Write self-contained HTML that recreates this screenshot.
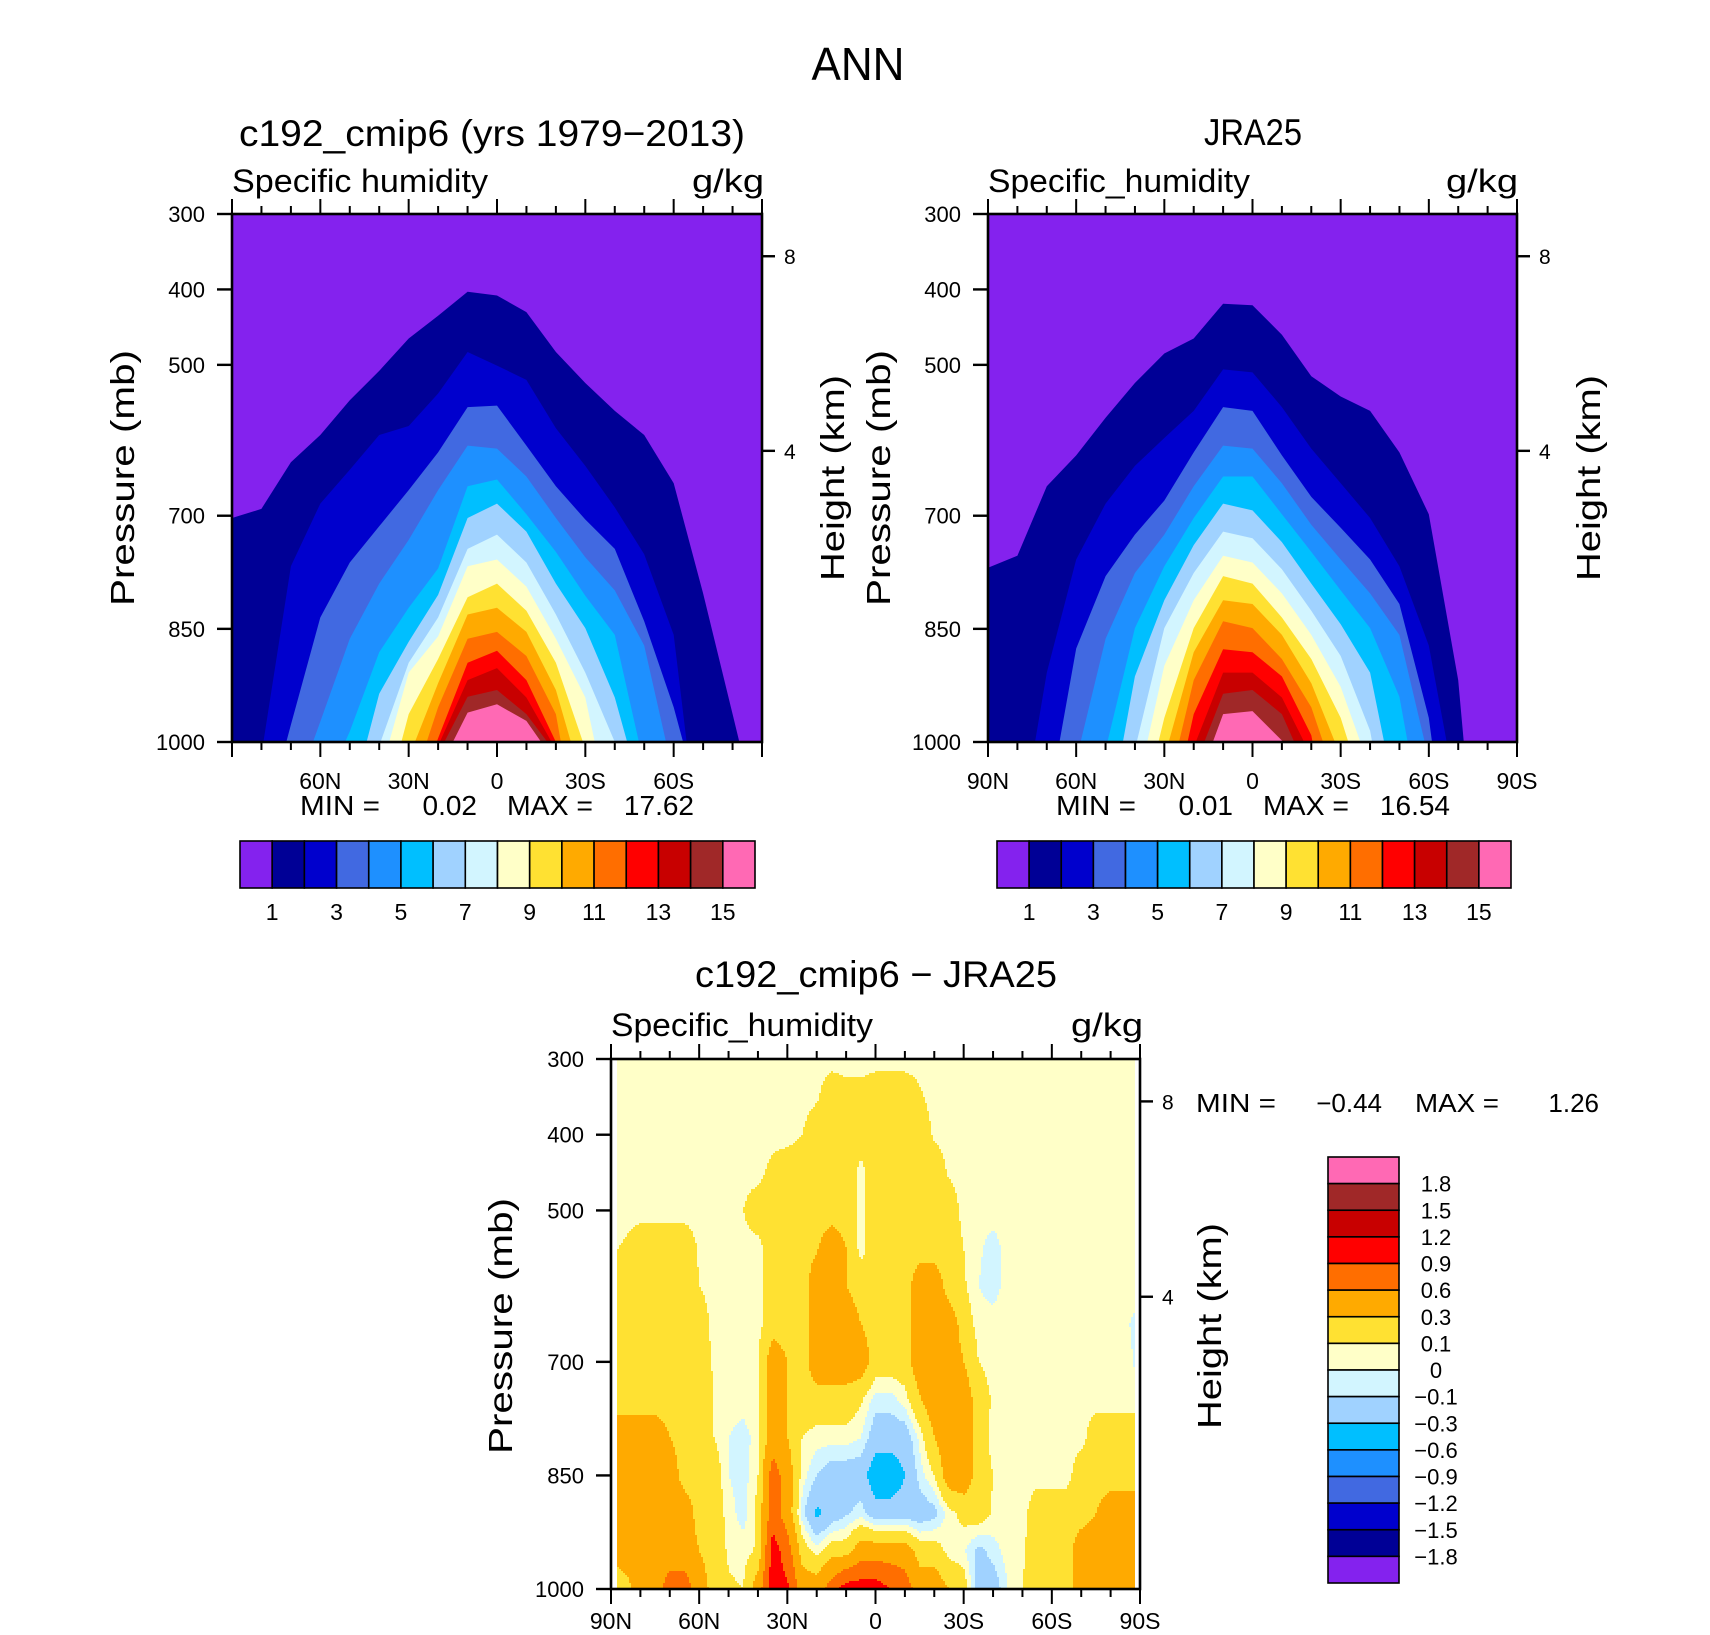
<!DOCTYPE html>
<html><head><meta charset="utf-8"><title>ANN Specific humidity</title>
<style>
html,body{margin:0;padding:0;background:#fff;}
svg{display:block;font-family:"Liberation Sans",sans-serif;}
text{fill:#000;}
</style></head>
<body>
<svg id="fig" xmlns="http://www.w3.org/2000/svg" width="1710" height="1635" viewBox="0 0 1710 1635">
<rect x="0" y="0" width="1710" height="1635" fill="#fff"/>
<text x="858" y="80" font-size="46" text-anchor="middle" textLength="93" lengthAdjust="spacingAndGlyphs">ANN</text>

<!-- panel 1 texts -->
<text x="492" y="146" font-size="37" text-anchor="middle" textLength="506" lengthAdjust="spacingAndGlyphs">c192_cmip6 (yrs 1979−2013)</text>
<text x="232" y="192" font-size="32" textLength="256" lengthAdjust="spacingAndGlyphs">Specific humidity</text>
<text x="764" y="192" font-size="32" text-anchor="end" textLength="72" lengthAdjust="spacingAndGlyphs">g/kg</text>
<text transform="translate(134,478) rotate(-90)" font-size="33" text-anchor="middle" textLength="256" lengthAdjust="spacingAndGlyphs">Pressure  (mb)</text>
<text transform="translate(844,478) rotate(-90)" font-size="33" text-anchor="middle" textLength="206" lengthAdjust="spacingAndGlyphs">Height  (km)</text>
<g font-size="28">
<text x="300" y="815" textLength="80" lengthAdjust="spacingAndGlyphs">MIN =</text>
<text x="477" y="815" text-anchor="end">0.02</text>
<text x="507" y="815" textLength="86" lengthAdjust="spacingAndGlyphs">MAX =</text>
<text x="694" y="815" text-anchor="end">17.62</text>
</g>

<!-- panel 2 texts -->
<text x="1253" y="145" font-size="37" text-anchor="middle" textLength="98" lengthAdjust="spacingAndGlyphs">JRA25</text>
<text x="988" y="192" font-size="32" textLength="262" lengthAdjust="spacingAndGlyphs">Specific_humidity</text>
<text x="1518" y="192" font-size="32" text-anchor="end" textLength="72" lengthAdjust="spacingAndGlyphs">g/kg</text>
<text transform="translate(890,478) rotate(-90)" font-size="33" text-anchor="middle" textLength="256" lengthAdjust="spacingAndGlyphs">Pressure  (mb)</text>
<text transform="translate(1600,478) rotate(-90)" font-size="33" text-anchor="middle" textLength="206" lengthAdjust="spacingAndGlyphs">Height  (km)</text>
<g font-size="28">
<text x="1056" y="815" textLength="80" lengthAdjust="spacingAndGlyphs">MIN =</text>
<text x="1233" y="815" text-anchor="end">0.01</text>
<text x="1263" y="815" textLength="86" lengthAdjust="spacingAndGlyphs">MAX =</text>
<text x="1450" y="815" text-anchor="end">16.54</text>
</g>

<!-- bottom panel texts -->
<text x="876" y="987" font-size="37" text-anchor="middle" textLength="362" lengthAdjust="spacingAndGlyphs">c192_cmip6 − JRA25</text>
<text x="611" y="1036" font-size="32" textLength="262" lengthAdjust="spacingAndGlyphs">Specific_humidity</text>
<text x="1143" y="1036" font-size="32" text-anchor="end" textLength="72" lengthAdjust="spacingAndGlyphs">g/kg</text>
<text transform="translate(512,1326) rotate(-90)" font-size="33" text-anchor="middle" textLength="256" lengthAdjust="spacingAndGlyphs">Pressure  (mb)</text>
<text transform="translate(1221,1326) rotate(-90)" font-size="33" text-anchor="middle" textLength="206" lengthAdjust="spacingAndGlyphs">Height  (km)</text>
<g font-size="26">
<text x="1196" y="1112" textLength="80" lengthAdjust="spacingAndGlyphs">MIN =</text>
<text x="1382" y="1112" text-anchor="end">−0.44</text>
<text x="1415" y="1112" textLength="84" lengthAdjust="spacingAndGlyphs">MAX =</text>
<text x="1599" y="1112" text-anchor="end">1.26</text>
</g>
</svg>

<script>
// ---------- data ----------
const lats = [90,80,70,60,50,40,30,20,10,0,-10,-20,-30,-40,-50,-60,-70,-80,-90];
const fillColors = ["#8422EE","#000096","#0000CD","#4169E1","#1E90FF","#00BFFF","#A0D2FF","#D2F5FF","#FFFFC8","#FFE132","#FFAA00","#FF6E00","#FF0000","#C80000","#A02828","#FF69B4"];
const qLevelLabels = ["1","3","5","7","9","11","13","15"];
const qLevelLabelIndex = [1,3,5,7,9,11,13,15];
const pressureTicks = [300,400,500,700,850,1000];
const heightTicksKm = [8,4];
const heightTickPressure = [356,614];
const latTicks = [90,60,30,0,-30,-60,-90];
const latTickLabels = ["90N","60N","30N","0","30S","60S","90S"];

// top-of-contour pressure (mb) per contour level 1..15, at lats 90N..90S (model)
const modelLevel1  = [703,691,629,593,547,508,465,435,403,408,430,483,524,561,593,657,803,963,1124];
const modelLevel2  = [1300,1017,767,684,639,593,581,538,483,501,520,584,634,689,751,858,1181,1400,1400];
const modelLevel3  = [1300,1124,977,835,762,714,666,616,556,554,607,661,705,744,840,954,1098,1400,1400];
const modelLevel4  = [1400,1300,1081,973,863,790,732,666,607,611,648,703,755,799,872,1045,1400,1400,1400];
const modelLevel5  = [1400,1400,1400,1074,986,881,822,770,661,652,698,748,806,858,1031,1400,1400,1400,1400];
const modelLevel6  = [1400,1400,1400,1400,1085,936,867,805,703,684,721,790,849,941,1081,1400,1400,1400,1400];
const modelLevel7  = [1400,1400,1400,1400,1200,1005,895,835,744,725,762,831,908,1000,1200,1400,1400,1400,1400];
const modelLevel8  = [1400,1400,1400,1400,1400,1047,908,860,767,758,794,863,941,1125,1400,1400,1400,1400,1400];
const modelLevel9  = [1400,1400,1400,1400,1400,1111,963,890,808,790,826,895,1009,1400,1400,1400,1400,1400,1400];
const modelLevel10 = [1400,1400,1400,1400,1400,1400,1021,922,831,822,854,931,1066,1400,1400,1400,1400,1400,1400];
const modelLevel11 = [1400,1400,1400,1400,1400,1400,1072,954,863,854,886,963,1181,1400,1400,1400,1400,1400,1400];
const modelLevel12 = [1400,1400,1400,1400,1400,1400,1100,995,895,879,918,1000,1400,1400,1400,1400,1400,1400,1400];
const modelLevel13 = [1400,1400,1400,1400,1400,1400,1400,1005,918,902,941,1010,1400,1400,1400,1400,1400,1400,1400];
const modelLevel14 = [1400,1400,1400,1400,1400,1400,1400,1016,940,931,963,1015,1400,1400,1400,1400,1400,1400,1400];
const modelLevel15 = [1400,1400,1400,1400,1400,1400,1400,1039,961,950,972,1028,1400,1400,1400,1400,1400,1400,1400];

// observations (JRA25)
const obsLevel1  = [769,753,661,620,570,524,485,465,419,421,460,515,542,561,616,698,918,1350,1700];
const obsLevel2  = [1400,1138,908,758,684,634,597,561,506,510,556,611,657,703,767,872,1082,1400,1400];
const obsLevel3  = [1400,1300,1094,876,780,725,680,616,556,561,620,675,716,758,817,968,1259,1400,1400];
const obsLevel4  = [1400,1400,1300,1024,863,776,725,661,607,611,657,712,758,803,858,1023,1400,1400,1400];
const obsLevel5  = [1400,1400,1400,1300,1010,849,767,703,648,648,698,748,799,849,940,1154,1400,1400,1400];
const obsLevel6  = [1400,1400,1400,1400,1125,913,812,739,684,693,735,790,844,908,1100,1400,1400,1400,1400];
const obsLevel7  = [1400,1400,1400,1400,1200,1010,849,776,721,730,771,826,886,985,1200,1400,1400,1400,1400];
const obsLevel8  = [1400,1400,1400,1400,1400,1073,899,812,753,762,803,858,927,1036,1400,1400,1400,1400,1400];
const obsLevel9  = [1400,1400,1400,1400,1400,1128,968,849,780,790,835,890,968,1091,1400,1400,1400,1400,1400];
const obsLevel10 = [1400,1400,1400,1400,1400,1400,1021,881,812,817,858,922,1019,1400,1400,1400,1400,1400,1400];
const obsLevel11 = [1400,1400,1400,1400,1400,1400,1082,918,840,849,890,954,1069,1400,1400,1400,1400,1400,1400];
const obsLevel12 = [1400,1400,1400,1400,1400,1400,1139,963,877,881,913,991,1200,1400,1400,1400,1400,1400,1400];
const obsLevel13 = [1400,1400,1400,1400,1400,1400,1400,1007,908,908,941,1019,1400,1400,1400,1400,1400,1400,1400];
const obsLevel14 = [1400,1400,1400,1400,1400,1400,1400,1036,936,931,963,1051,1400,1400,1400,1400,1400,1400,1400];
const obsLevel15 = [1400,1400,1400,1400,1400,1400,1400,1069,963,959,998,1100,1400,1400,1400,1400,1400,1400,1400];

// difference field (g/kg) on grid: lats 90N..90S step 5, pressure rows 300..1000 step 50
const diffLats = [90,85,80,75,70,65,60,55,50,45,40,35,30,25,20,15,10,5,0,-5,-10,-15,-20,-25,-30,-35,-40,-45,-50,-55,-60,-65,-70,-75,-80,-85,-90];
const diffLevels = [300,350,400,450,500,550,600,650,700,750,800,850,900,950,1000];
const diffBounds = [-1.8,-1.5,-1.2,-0.9,-0.6,-0.3,-0.1,0,0.1,0.3,0.6,0.9,1.2,1.5,1.8];
const diffBarLabels = ["1.8","1.5","1.2","0.9","0.6","0.3","0.1","0","−0.1","−0.3","−0.6","−0.9","−1.2","−1.5","−1.8"];
const diff300 = [0.05,0.05,0.05,0.05,0.05,0.05,0.05,0.05,0.05,0.05,0.05,0.05,0.05,0.05,0.05,0.05,0.05,0.05,0.05,0.05,0.05,0.05,0.05,0.05,0.05,0.05,0.05,0.05,0.05,0.05,0.05,0.05,0.05,0.05,0.05,0.05,0.05];
const diff350 = [0.05,0.05,0.05,0.05,0.05,0.05,0.05,0.05,0.05,0.05,0.05,0.05,0.05,0.05,0.08,0.2,0.15,0.15,0.2,0.2,0.2,0.12,0.05,0.05,0.05,0.05,0.05,0.05,0.05,0.05,0.05,0.05,0.05,0.05,0.05,0.05,0.05];
const diff400 = [0.05,0.05,0.05,0.05,0.05,0.05,0.05,0.05,0.05,0.05,0.05,0.05,0.05,0.1,0.2,0.2,0.2,0.2,0.2,0.2,0.2,0.2,0.08,0.05,0.05,0.05,0.05,0.05,0.05,0.05,0.05,0.05,0.05,0.05,0.05,0.05,0.05];
const diff450 = [0.05,0.05,0.05,0.05,0.05,0.05,0.05,0.05,0.05,0.05,0.05,0.15,0.2,0.2,0.2,0.2,0.2,0.05,0.2,0.2,0.2,0.2,0.2,0.08,0.05,0.05,0.05,0.05,0.05,0.05,0.05,0.05,0.05,0.05,0.05,0.05,0.05];
const diff500 = [0.05,0.05,0.05,0.05,0.05,0.05,0.05,0.05,0.05,0.1,0.2,0.2,0.2,0.2,0.2,0.2,0.2,0.05,0.2,0.2,0.2,0.2,0.2,0.2,0.05,0.05,0.05,0.05,0.05,0.05,0.05,0.05,0.05,0.05,0.05,0.05,0.05];
const diff550 = [0.08,0.12,0.2,0.2,0.2,0.2,0.08,0.05,0.05,0.05,0.05,0.2,0.2,0.2,0.28,0.45,0.3,0.05,0.2,0.2,0.2,0.2,0.2,0.2,0.1,0.02,-0.05,0.05,0.05,0.05,0.05,0.05,0.05,0.05,0.05,0.05,0.05];
const diff600 = [0.2,0.2,0.2,0.2,0.2,0.2,0.1,0.05,0.05,0.05,0.05,0.2,0.2,0.2,0.45,0.45,0.3,0.2,0.2,0.2,0.2,0.45,0.45,0.2,0.12,0,-0.05,0.05,0.05,0.05,0.05,0.05,0.05,0.05,0.05,0.05,0.05];
const diff650 = [0.2,0.2,0.2,0.2,0.2,0.2,0.2,0.05,0.05,0.05,0.05,0.2,0.2,0.2,0.45,0.45,0.45,0.3,0.2,0.2,0.2,0.45,0.45,0.45,0.2,0.05,0.05,0.05,0.05,0.05,0.05,0.05,0.05,0.05,0.05,0.02,-0.05];
const diff700 = [0.2,0.2,0.2,0.2,0.2,0.2,0.2,0.08,0.05,0.05,0.1,0.45,0.3,0.2,0.45,0.45,0.45,0.45,0.2,0.2,0.2,0.45,0.45,0.45,0.3,0.1,0.05,0.05,0.05,0.05,0.05,0.05,0.05,0.05,0.05,0.05,-0.05];
const diff750 = [0.2,0.2,0.2,0.2,0.2,0.2,0.2,0.1,0.05,0.05,0.1,0.45,0.3,0.2,0.2,0.2,0.2,0.12,-0.05,-0.05,0.05,0.28,0.45,0.45,0.45,0.2,0.08,0.05,0.05,0.05,0.05,0.05,0.05,0.05,0.05,0.05,0.05];
const diff800 = [0.45,0.45,0.45,0.45,0.3,0.2,0.2,0.1,0,-0.05,0.05,0.45,0.3,0.1,0.05,0.05,0.05,0,-0.2,-0.2,-0.2,0.03,0.3,0.45,0.45,0.2,0.05,0.05,0.05,0.05,0.05,0.05,0.05,0.2,0.2,0.2,0.2];
const diff850 = [0.45,0.45,0.45,0.45,0.45,0.2,0.2,0.2,0,-0.05,0.1,0.75,0.45,0.05,-0.1,-0.2,-0.2,-0.2,-0.45,-0.45,-0.3,-0.05,0.1,0.45,0.45,0.2,0.1,0.05,0.05,0.05,0.05,0.05,0.2,0.2,0.2,0.2,0.2];
const diff900 = [0.45,0.45,0.45,0.45,0.45,0.45,0.2,0.2,0.05,-0.05,0.15,0.75,0.45,-0.05,-0.35,-0.2,-0.12,-0.05,-0.2,-0.2,-0.2,-0.2,-0.15,0.05,0.15,0.2,0.08,0.05,0.05,0.2,0.2,0.2,0.2,0.3,0.45,0.45,0.45];
const diff950 = [0.3,0.45,0.45,0.45,0.45,0.45,0.3,0.2,0.08,0.05,0.12,1.05,0.75,0.2,0.05,0.2,0.2,0.45,0.45,0.45,0.45,0.2,0.2,0.05,0.02,-0.15,-0.05,0.05,0.08,0.2,0.2,0.2,0.45,0.45,0.45,0.45,0.45];
const diff1000 = [0.2,0.2,0.45,0.45,0.75,0.75,0.45,0.2,0.12,0.1,0.45,1.05,0.95,0.45,0.45,0.75,1.05,1.05,1.05,0.9,0.75,0.45,0.45,0.3,0.2,-0.2,-0.2,0,0.1,0.2,0.2,0.2,0.45,0.45,0.45,0.45,0.45];

// ---------- helpers ----------
const NS = "http://www.w3.org/2000/svg";
const svg = document.getElementById("fig");
function mk(tag, attrs, parent){
  const e = document.createElementNS(NS, tag);
  for (const k in attrs) e.setAttribute(k, attrs[k]);
  (parent||svg).appendChild(e);
  return e;
}
function makeScales(x0,y0,w,h){
  return {
    x: lat => x0 + (90 - lat) / 180 * w,
    y: p => y0 + (p - 300) / 700 * h
  };
}

function drawAxes(g, x0,y0,w,h, sc, prefix, showPoleLabels, labelOffset){
  const fr = mk("rect",{x:x0,y:y0,width:w,height:h,fill:"none",stroke:"#000","stroke-width":2.6},g);
  
  
  for (let lat=90; lat>=-90; lat-=10){
    const major = (lat % 30 === 0);
    const len = major ? 15 : 8;
    const x = sc.x(lat);
    const t1 = mk("line",{x1:x,y1:y0,x2:x,y2:y0-len,stroke:"#000","stroke-width":2},g);
    
    
    const t2 = mk("line",{x1:x,y1:y0+h,x2:x,y2:y0+h+len,stroke:"#000","stroke-width":2},g);
    
    
  }
  latTicks.forEach((lat,i)=>{
    if (!showPoleLabels && Math.abs(lat)===90) return;
    const t = mk("text",{x:sc.x(lat),y:y0+h+labelOffset,"font-size":23,"text-anchor":"middle"},g);
    t.textContent = latTickLabels[i];
    
    
  });
  pressureTicks.forEach(p=>{
    const y = sc.y(p);
    const l = mk("line",{x1:x0-15,y1:y,x2:x0,y2:y,stroke:"#000","stroke-width":2.4},g);
    
    
    const t = mk("text",{x:x0-27,y:y+8,"font-size":22,"text-anchor":"end"},g);
    t.textContent = String(p);
    
    
  });
  heightTicksKm.forEach((km,i)=>{
    const y = sc.y(heightTickPressure[i]);
    const l = mk("line",{x1:x0+w,y1:y,x2:x0+w+13,y2:y,stroke:"#000","stroke-width":2.4},g);
    
    
    const t = mk("text",{x:x0+w+22,y:y+8,"font-size":21},g);
    t.textContent = String(km);
    
    
  });
}

function drawDomePanel(prefix, x0,y0,w,h, levels){
  const sc = makeScales(x0,y0,w,h);
  const g = mk("g",{});
  
  
  const clip = mk("clipPath",{id:prefix+"-clip"},g);
  mk("rect",{x:x0,y:y0,width:w,height:h},clip);
  const cg = mk("g",{"clip-path":"url(#"+prefix+"-clip)"},g);
  const bg = mk("rect",{x:x0,y:y0,width:w,height:h,fill:fillColors[0]},cg);
  
  
  levels.forEach((arr,k)=>{
    let pts = lats.map((lat,i)=> sc.x(lat).toFixed(1)+","+sc.y(arr[i]).toFixed(1));
    pts.push(sc.x(-90).toFixed(1)+","+sc.y(1500).toFixed(1));
    pts.push(sc.x(90).toFixed(1)+","+sc.y(1500).toFixed(1));
    const poly = mk("polygon",{points:pts.join(" "),fill:fillColors[k+1],"stroke-linejoin":"round"},cg);
    
    
  });
  drawAxes(g,x0,y0,w,h,sc,prefix,prefix!=="model",47);
  return g;
}

function drawHorizontalBar(prefix, x0,y0,w,h){
  const g = mk("g",{});
  
  
  const bw = w / fillColors.length;
  fillColors.forEach((c,i)=>{
    const r = mk("rect",{x:x0+i*bw,y:y0,width:bw,height:h,fill:c,stroke:"#000","stroke-width":1.6},g);
    
    
  });
  qLevelLabels.forEach((lab,i)=>{
    const t = mk("text",{x:x0+qLevelLabelIndex[i]*bw,y:y0+h+32,"font-size":23,"text-anchor":"middle"},g);
    t.textContent = lab;
    
    
  });
}

// ---------- top panels ----------
const modelLevels = [modelLevel1,modelLevel2,modelLevel3,modelLevel4,modelLevel5,modelLevel6,modelLevel7,modelLevel8,modelLevel9,modelLevel10,modelLevel11,modelLevel12,modelLevel13,modelLevel14,modelLevel15];
const obsLevels = [obsLevel1,obsLevel2,obsLevel3,obsLevel4,obsLevel5,obsLevel6,obsLevel7,obsLevel8,obsLevel9,obsLevel10,obsLevel11,obsLevel12,obsLevel13,obsLevel14,obsLevel15];
drawDomePanel("model", 232,214,530,528, modelLevels);
drawDomePanel("obs", 988,214,529,528, obsLevels);
drawHorizontalBar("model", 240,841,515,47);
drawHorizontalBar("obs", 997,841,514,47);

// ---------- difference panel ----------
const diffRows = [diff300,diff350,diff400,diff450,diff500,diff550,diff600,diff650,diff700,diff750,diff800,diff850,diff900,diff950,diff1000];
(function(){
  const x0=611,y0=1059,w=529,h=530;
  const sc = makeScales(x0,y0,w,h);
  const g = mk("g",{});
  
  
  const cg = mk("g",{"shape-rendering":"crispEdges"},g);
  function val(lat,p){
    let fi = (90-lat)/5, fj = (p-300)/50;
    fi = Math.max(0,Math.min(diffLats.length-1.0001,fi));
    fj = Math.max(0,Math.min(diffLevels.length-1.0001,fj));
    const i=Math.floor(fi), j=Math.floor(fj), a=fi-i, b=fj-j;
    const r0=diffRows[j], r1=diffRows[j+1];
    return (r0[i]*(1-a)+r0[i+1]*a)*(1-b)+(r1[i]*(1-a)+r1[i+1]*a)*b;
  }
  function colorIdx(v){ let k=0; diffBounds.forEach(b=>{ if (v>=b) k++; }); return k; }
  const xa = sc.x(88), xb = sc.x(-88.3);
  const step=2;
  for (let y=y0; y<y0+h; y+=step){
    const p = 300 + (y+step/2-y0)/h*700;
    let runStart=xa, runCol=-1;
    for (let x=xa; x<=xb; x+=step){
      const lat = 90 - (x+step/2-x0)/w*180;
      const c = (x>=xb)?-2:colorIdx(val(lat,p));
      if (c!==runCol){
        if (runCol>=0){
          const r = mk("rect",{x:runStart.toFixed(1),y:y,width:(x-runStart).toFixed(1),height:step,fill:fillColors[runCol]},cg);
          
          
        }
        runStart=x; runCol=c;
      }
    }
    if (runCol>=0){
      const r = mk("rect",{x:runStart.toFixed(1),y:y,width:(xb-runStart).toFixed(1),height:step,fill:fillColors[runCol]},cg);
      
      
    }
  }
  drawAxes(g,x0,y0,w,h,sc,"diff",true,40);
  const bx=1328, by=1157, bw=71, bh=(1583-1157)/16;
  const cb = mk("g",{});
  
  
  for (let i=0;i<16;i++){
    const r = mk("rect",{x:bx,y:by+i*bh,width:bw,height:bh,fill:fillColors[15-i],stroke:"#000","stroke-width":1.6},cb);
    
    
  }
  diffBarLabels.forEach((lab,i)=>{
    const t = mk("text",{x:1436,y:by+(i+1)*bh+8,"font-size":22,"text-anchor":"middle"},cb);
    t.textContent = lab;
    
    
  });
})();
</script>
</body></html>
